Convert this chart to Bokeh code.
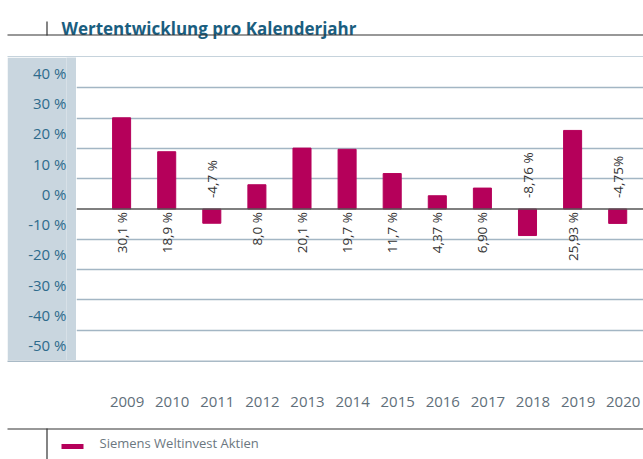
import math
from bokeh.plotting import figure
from bokeh.models import Range1d, FixedTicker, Grid, Span, ColumnDataSource, Spacer
from bokeh.layouts import column, row
from bokeh.embed import file_html
from bokeh.resources import INLINE
from bokeh.core.properties import value

# ---------------- data ----------------
title_text = "Wertentwicklung pro Kalenderjahr"
series_name = "Siemens Weltinvest Aktien"
years = ["2009", "2010", "2011", "2012", "2013", "2014",
         "2015", "2016", "2017", "2018", "2019", "2020"]
returns = [30.1, 18.9, -4.7, 8.0, 20.1, 19.7, 11.7, 4.37, 6.90, -8.76, 25.93, -4.75]
return_labels = ["30,1 %", "18,9 %", "-4,7 %", "8,0 %", "20,1 %", "19,7 %",
                 "11,7 %", "4,37 %", "6,90 %", "-8,76 %", "25,93 %", "-4,75%"]
grid_values = [40, 30, 20, 10, -10, -20, -30, -40]
y_tick_values = [45, 35, 25, 15, 5, -5, -15, -25, -35, -45]
y_tick_labels = ["40 %", "30 %", "20 %", "10 %", "0 %",
                 "-10 %", "-20 %", "-30 %", "-40 %", "-50 %"]

# ---------------- style ----------------
FONT = "Open Sans"
MAGENTA = "#b5005a"
PANEL = "#c9d6df"
GRID_C = "#a3b6c4"
TITLE_C = "#1a5e80"
YLAB_C = "#2e6b8c"
YEAR_C = "#5f6f7a"
LEG_C = "#6b7780"
DARK = "#333333"

W = 643
MAIN_W, MAIN_H = 567, 303
X0 = -1.0
PPU = 45.1
X1 = X0 + MAIN_W / PPU
YEAR_SHIFT = 5.5 / PPU
YX0 = X0 - 76 / PPU - YEAR_SHIFT
YX1 = X1 - YEAR_SHIFT

common = dict(toolbar_location=None, output_backend="svg")


def deco_fig(w, h, xr, yr):
    f = figure(width=w, height=h, x_range=xr, y_range=yr, x_axis_type=None,
               y_axis_type=None, min_border=0, outline_line_color=None,
               border_fill_color="white", background_fill_color="white", **common)
    return f


# ---------------- header ----------------
header = deco_fig(W, 57, Range1d(0, W), Range1d(57, 0))
header.text(x=[61], y=[27.5], text=[title_text], text_font=value(FONT),
            text_font_style="bold", text_font_size="17px", text_color=TITLE_C,
            text_baseline="alphabetic", text_align="left")
header.segment(x0=[7, 46.5], y0=[34.5, 21], x1=[W, 46.5], y1=[34.5, 35],
               line_color=DARK, line_width=1.2)
header.segment(x0=[7], y0=[56.5], x1=[W], y1=[56.5], line_color="#b3c4d0", line_width=1.5)

# ---------------- main chart ----------------
y_range = Range1d(-50, 50)
main = figure(width=MAIN_W, height=MAIN_H, x_range=Range1d(X0, X1), y_range=y_range,
              x_axis_type=None, y_axis_type=None, min_border=0,
              outline_line_color=None, **common)
main.add_layout(Grid(dimension=1, ticker=FixedTicker(ticks=grid_values),
                     grid_line_color=GRID_C, grid_line_width=1.5))

src = ColumnDataSource(dict(
    x=list(range(len(years))),
    v=returns,
    lab=return_labels,
    align=["right" if v >= 0 else "left" for v in returns],
    yoff=[3 if v >= 0 else -11 for v in returns],
))
main.vbar(x="x", top="v", bottom=0, width=0.4, source=src, color=MAGENTA)
main.add_layout(Span(location=0, dimension="width", line_color="#555555", line_width=1.5))
main.text(x="x", y=0, text="lab", source=src, angle=math.pi / 2,
          text_align="align", text_baseline="middle", y_offset="yoff",
          text_font=value(FONT), text_font_size="13.5px", text_color="#333333")

# ---------------- left panel with y labels ----------------
left = figure(width=69, height=MAIN_H, x_range=Range1d(0, 1), y_range=y_range,
              x_axis_type=None, min_border_left=59, min_border_right=0,
              min_border_top=0, min_border_bottom=0,
              background_fill_color=PANEL, border_fill_color=PANEL,
              outline_line_color=None, **common)
left.ygrid.visible = False
ax = left.yaxis[0]
ax.ticker = FixedTicker(ticks=y_tick_values)
ax.major_label_overrides = dict(zip(y_tick_values, y_tick_labels))
ax.axis_line_color = None
ax.major_tick_line_color = None
ax.minor_tick_line_color = None
ax.major_tick_out = 0
ax.major_tick_in = 0
ax.major_label_standoff = 0
ax.major_label_text_font = FONT
ax.major_label_text_font_size = "15px"
ax.major_label_text_color = YLAB_C

# ---------------- year axis ----------------
yrs = figure(width=W, height=55, x_range=Range1d(YX0, YX1), y_range=Range1d(28, 0),
             y_axis_type=None, min_border_left=0, min_border_right=0,
             min_border_top=0, min_border_bottom=27, outline_line_color=None, **common)
yrs.extra_x_ranges = {"px": Range1d(0, W)}
yrs.xgrid.visible = False
yrs.segment(x0=[7], y0=[0.5], x1=[W], y1=[0.5], x_range_name="px",
            line_color="#8da3b3", line_width=1.5)
xa = yrs.xaxis[0]
xa.ticker = FixedTicker(ticks=list(range(len(years))))
xa.major_label_overrides = {i: y for i, y in enumerate(years)}
xa.axis_line_color = None
xa.major_tick_line_color = None
xa.minor_tick_line_color = None
xa.major_tick_out = 0
xa.major_tick_in = 0
xa.major_label_standoff = 8
xa.major_label_text_font = FONT
xa.major_label_text_font_size = "15px"
xa.major_label_text_color = YEAR_C

# ---------------- legend strip ----------------
leg = deco_fig(W, 44, Range1d(0, W), Range1d(459, 415))
leg.segment(x0=[7, 46.5], y0=[428.5, 428], x1=[W, 46.5], y1=[428.5, 459],
            line_color=DARK, line_width=1.2)
leg.segment(x0=[61], y0=[446], x1=[83], y1=[446], line_color=MAGENTA, line_width=5)
leg.text(x=[99], y=[442], text=[series_name], text_font=value(FONT),
         text_font_size="13px", text_color=LEG_C, text_baseline="middle", text_align="left")

layout = column(header, row(Spacer(width=7, height=MAIN_H), left, main), yrs, leg)

open("out.html", "w").write(file_html(layout, INLINE))
